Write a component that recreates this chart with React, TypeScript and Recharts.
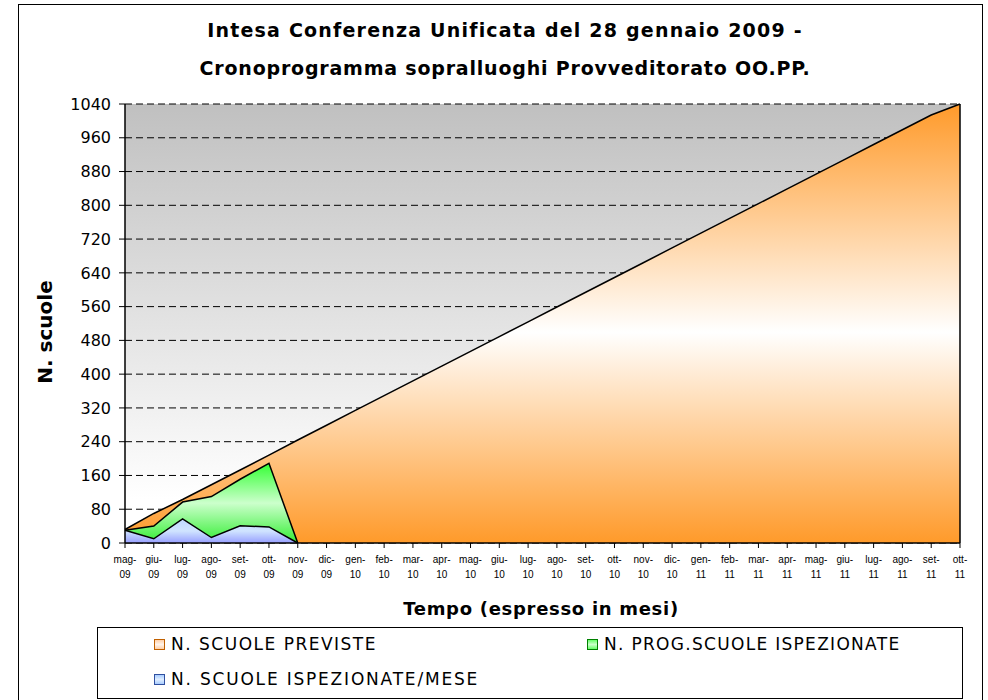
import React from "react";
import {
    AreaChart,
    Area,
    XAxis,
    YAxis,
    CartesianGrid,
    ReferenceLine,
} from "recharts";

const mesi = [
    "mag-09", "giu-09", "lug-09", "ago-09", "set-09", "ott-09", "nov-09", "dic-09",
    "gen-10", "feb-10", "mar-10", "apr-10", "mag-10", "giu-10", "lug-10", "ago-10",
    "set-10", "ott-10", "nov-10", "dic-10", "gen-11", "feb-11", "mar-11", "apr-11",
    "mag-11", "giu-11", "lug-11", "ago-11", "set-11", "ott-11",
];

// N. SCUOLE PREVISTE
const scuolePreviste = [
    32, 70, 103, 138, 173, 208, 244, 279, 314, 349, 384, 419, 454, 489, 524,
    559, 594, 629, 664, 699, 734, 769, 804, 839, 874, 909, 944, 979, 1014, 1040,
];

// N. PROG.SCUOLE ISPEZIONATE
const progIspezionate = [30, 40, 97, 110, 151, 189, 0];

// N. SCUOLE ISPEZIONATE/MESE
const ispezionateMese = [30, 10, 57, 13, 41, 38, 0];

const yTicks = [0, 80, 160, 240, 320, 400, 480, 560, 640, 720, 800, 880, 960, 1040];

const COMIC = '"Comic Sans MS", "DejaVu Sans", sans-serif';

const data = mesi.map((mese, i) => ({
    mese,
    previste: scuolePreviste[i],
    prog: i < progIspezionate.length ? progIspezionate[i] : null,
    mensili: i < ispezionateMese.length ? ispezionateMese[i] : null,
}));

const MonthTick = (props: any) => {
    const { x, y, payload } = props;
    const [m, yy] = String(payload.value).split("-");
    return (
        <g>
            <text
                x={x}
                y={y + 13}
                textAnchor="middle"
                fontSize={10}
                fontFamily="'Liberation Sans', Arial, sans-serif"
                fill="#000"
            >
                {m}-
            </text>
            <text
                x={x}
                y={y + 28}
                textAnchor="middle"
                fontSize={10}
                fontFamily="'Liberation Sans', Arial, sans-serif"
                fill="#000"
            >
                {yy}
            </text>
        </g>
    );
};

const Swatch = ({ fill, border }: { fill: string; border: string }) => (
    <span
        style={{
            display: "inline-block",
            width: 9,
            height: 9,
            border: `1px solid ${border}`,
            background: fill,
            marginRight: 6,
            verticalAlign: "middle",
            position: "relative",
            top: -1,
        }}
    />
);

export default function App() {
    return (
        <div
            style={{
                position: "absolute",
                left: 0,
                top: 0,
                width: 988,
                height: 700,
                overflow: "hidden",
                background: "#fff",
                fontFamily: COMIC,
            }}
        >
            {/* outer frame */}
            <div
                style={{
                    position: "absolute",
                    left: 18,
                    top: 4,
                    width: 963,
                    height: 720,
                    border: "1px solid #000",
                }}
            />

            <div
                style={{
                    position: "absolute",
                    left: 0,
                    top: 11,
                    width: 1010,
                    textAlign: "center",
                    fontWeight: "bold",
                    fontSize: 19,
                    lineHeight: "38px",
                }}
            >
                <div style={{ letterSpacing: 1.2 }}>
                    Intesa Conferenza Unificata del 28 gennaio 2009 -
                </div>
                <div style={{ letterSpacing: 0.8 }}>
                    Cronoprogramma sopralluoghi Provveditorato OO.PP.
                </div>
            </div>

            <div style={{ position: "absolute", left: 0, top: 0 }}>
                <AreaChart
                    width={988}
                    height={700}
                    data={data}
                    margin={{ top: 104, right: 28, bottom: 127, left: 0 }}
                >
                    <defs>
                        <linearGradient id="bgGrad" x1="0" y1="0" x2="0" y2="1">
                            <stop offset="0%" stopColor="#c0c0c0" />
                            <stop offset="90%" stopColor="#ffffff" />
                            <stop offset="100%" stopColor="#ffffff" />
                        </linearGradient>
                        <linearGradient id="orangeGrad" x1="0" y1="0" x2="0" y2="1">
                            <stop offset="0%" stopColor="#ff9a2a" />
                            <stop offset="52%" stopColor="#ffffff" />
                            <stop offset="100%" stopColor="#ff9a2a" />
                        </linearGradient>
                        <linearGradient id="greenGrad" x1="0" y1="0" x2="0" y2="1">
                            <stop offset="0%" stopColor="#33ff33" />
                            <stop offset="50%" stopColor="#ccffcc" />
                            <stop offset="100%" stopColor="#33ee33" />
                        </linearGradient>
                        <linearGradient id="blueGrad" x1="0" y1="0" x2="0" y2="1">
                            <stop offset="0%" stopColor="#c0d8ff" />
                            <stop offset="50%" stopColor="#d0e4ff" />
                            <stop offset="100%" stopColor="#98a0ff" />
                        </linearGradient>
                    </defs>

                    <CartesianGrid
                        vertical={false}
                        stroke="#000"
                        strokeDasharray="7 4"
                        fill="url(#bgGrad)"
                        fillOpacity={1}
                    />

                    <XAxis
                        dataKey="mese"
                        interval={0}
                        tick={<MonthTick />}
                        tickSize={5}
                        tickMargin={2}
                        stroke="#000"
                        axisLine={{ stroke: "#000", strokeWidth: 1.5 }}
                        tickLine={{ stroke: "#000" }}
                    />
                    <YAxis
                        width={125}
                        domain={[0, 1040]}
                        ticks={yTicks}
                        interval={0}
                        tickSize={6}
                        tickMargin={8}
                        axisLine={{ stroke: "#000", strokeWidth: 1.5 }}
                        tickLine={{ stroke: "#000" }}
                        tick={{ fill: "#000", fontSize: 16, fontFamily: COMIC }}
                    />

                    <Area
                        type="linear"
                        dataKey="previste"
                        name="N. SCUOLE PREVISTE"
                        stroke="#000"
                        strokeWidth={1.5}
                        fill="url(#orangeGrad)"
                        fillOpacity={1}
                        isAnimationActive={false}
                        dot={false}
                        activeDot={false}
                    />
                    <Area
                        type="linear"
                        dataKey="prog"
                        name="N. PROG.SCUOLE ISPEZIONATE"
                        stroke="#000"
                        strokeWidth={1.5}
                        fill="url(#greenGrad)"
                        fillOpacity={1}
                        isAnimationActive={false}
                        dot={false}
                        activeDot={false}
                    />
                    <Area
                        type="linear"
                        dataKey="mensili"
                        name="N. SCUOLE ISPEZIONATE/MESE"
                        stroke="#000"
                        strokeWidth={1.5}
                        fill="url(#blueGrad)"
                        fillOpacity={1}
                        isAnimationActive={false}
                        dot={false}
                        activeDot={false}
                    />
                    <ReferenceLine
                        segment={[
                            { x: mesi[mesi.length - 1], y: 0 },
                            { x: mesi[mesi.length - 1], y: scuolePreviste[scuolePreviste.length - 1] },
                        ]}
                        stroke="#000"
                        strokeWidth={1.5}
                    />
                </AreaChart>
            </div>

            {/* y axis title */}
            <div
                style={{
                    position: "absolute",
                    left: 45,
                    top: 332,
                    transform: "translate(-50%, -50%) rotate(-90deg)",
                    fontWeight: "bold",
                    fontSize: 20,
                    whiteSpace: "nowrap",
                }}
            >
                N. scuole
            </div>

            {/* x axis title */}
            <div
                style={{
                    position: "absolute",
                    left: 541,
                    top: 608,
                    transform: "translate(-50%, -50%)",
                    fontWeight: "bold",
                    fontSize: 18,
                    whiteSpace: "nowrap",
                    letterSpacing: 0.7,
                }}
            >
                Tempo (espresso in mesi)
            </div>

            {/* legend */}
            <div
                style={{
                    position: "absolute",
                    left: 97,
                    top: 627,
                    width: 864,
                    height: 70,
                    border: "1px solid #000",
                    background: "#fff",
                    fontSize: 17,
                    letterSpacing: 1.5,
                }}
            >
                <div style={{ position: "absolute", left: 56, top: 6, whiteSpace: "nowrap" }}>
                    <Swatch fill="linear-gradient(#ffd0a8, #fff3ea, #ffd0a8)" border="#c06000" />
                    N. SCUOLE PREVISTE
                </div>
                <div style={{ position: "absolute", left: 489, top: 6, whiteSpace: "nowrap", letterSpacing: 1.3 }}>
                    <Swatch fill="linear-gradient(#66ff66, #ccffcc, #66ff66)" border="#008000" />
                    N. PROG.SCUOLE ISPEZIONATE
                </div>
                <div style={{ position: "absolute", left: 56, top: 41, whiteSpace: "nowrap", letterSpacing: 1.8 }}>
                    <Swatch fill="linear-gradient(#a8ccff, #e0eeff, #a8ccff)" border="#3050a0" />
                    N. SCUOLE ISPEZIONATE/MESE
                </div>
            </div>
        </div>
    );
}
